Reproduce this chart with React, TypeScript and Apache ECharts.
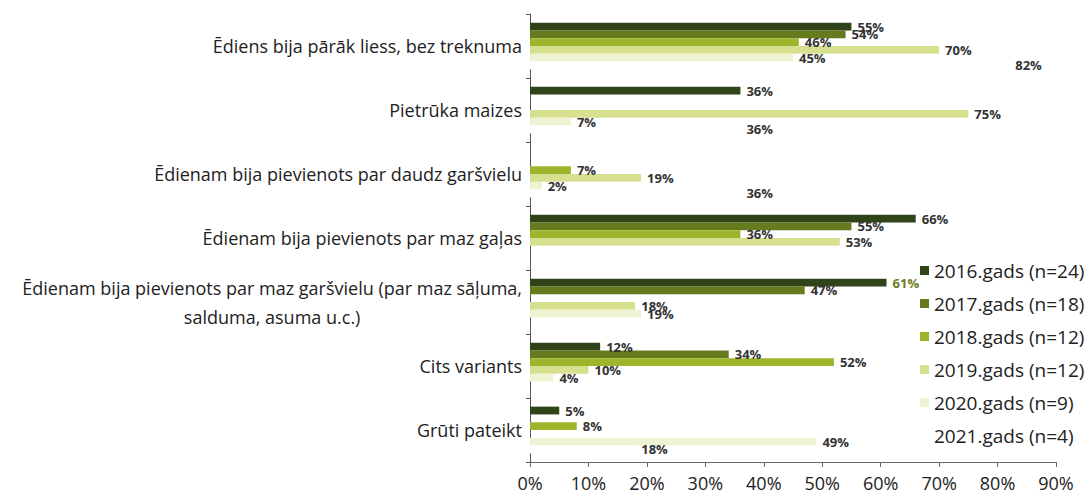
import React, { useEffect, useRef } from "react";
import * as echarts from "echarts";

const categories = [
  "Ēdiens bija pārāk liess, bez treknuma",
  "Pietrūka maizes",
  "Ēdienam bija pievienots par daudz garšvielu",
  "Ēdienam bija pievienots par maz gaļas",
  "Ēdienam bija pievienots par maz garšvielu (par maz sāļuma,\nsalduma, asuma u.c.)",
  "Cits variants",
  "Grūti pateikt",
];

const seriesNames = [
  "2016.gads (n=24)",
  "2017.gads (n=18)",
  "2018.gads (n=12)",
  "2019.gads (n=12)",
  "2020.gads (n=9)",
  "2021.gads (n=4)",
];

const v2016 = [55, 36, null, 66, 61, 12, 5];
const v2017 = [54, null, null, 55, 47, 34, null];
const v2018 = [46, null, 7, 36, null, 52, 8];
const v2019 = [70, 75, 19, 53, 18, 10, null];
const v2020 = [45, 7, 2, null, 19, 4, 49];
const v2021 = [82, 36, 36, null, null, null, 18];

const values = [v2016, v2017, v2018, v2019, v2020, v2021];
const colors = ["#2f4519", "#667b1e", "#9cb52b", "#d6e08f", "#eef3d4", "#ffffff"];

const xTicks = [0, 10, 20, 30, 40, 50, 60, 70, 80, 90];

const FONT = "'Open Sans', sans-serif";

export default function App() {
  const ref = useRef<HTMLDivElement>(null);
  useEffect(() => {
    if (!ref.current) return;
    const chart = echarts.init(ref.current, null, { renderer: "svg" });
    const series = values.map((arr, si) => ({
      name: seriesNames[si],
      type: "bar",
      data: arr.map((v, ci) =>
        si === 0 && ci === 4
          ? { value: v, label: { color: "#6b7d1f" } }
          : v
      ),
      itemStyle: { color: colors[si] },
      barGap: "0%",
      barCategoryGap: "27%",
      label: {
        show: true,
        position: "right",
        distance: 6,
        fontFamily: FONT,
        fontSize: 13,
        fontWeight: "bold",
        color: "#333",
        formatter: (p: any) => (p.value == null ? "" : p.value + "%"),
      },
    }));
    chart.setOption({
      animation: false,
      textStyle: { fontFamily: FONT },
      grid: { left: 530, right: 32, top: 14, bottom: 37, containLabel: false },
      legend: {
        orient: "vertical",
        left: 915,
        top: 256,
        icon: "rect",
        itemWidth: 9,
        itemHeight: 9,
        itemGap: 14,
        itemStyle: { borderWidth: 0 },
        textStyle: { fontFamily: FONT, fontSize: 19, color: "#222" },
        data: seriesNames,
      },
      xAxis: {
        type: "value",
        min: xTicks[0],
        max: xTicks[xTicks.length - 1],
        interval: 10,
        axisLine: { show: true, lineStyle: { color: "#666" } },
        axisTick: { show: true, length: 5, lineStyle: { color: "#666" } },
        splitLine: { show: false },
        axisLabel: {
          formatter: "{value}%",
          fontFamily: FONT,
          fontSize: 18,
          color: "#222",
          margin: 12,
        },
      },
      yAxis: {
        type: "category",
        data: categories,
        inverse: true,
        axisLine: { show: true, lineStyle: { color: "#555" } },
        axisTick: { show: true, length: 4, lineStyle: { color: "#555" } },
        axisLabel: {
          fontFamily: FONT,
          fontSize: 18,
          color: "#222",
          margin: 8,
          lineHeight: 29,
          formatter: (val: string) =>
            val.indexOf("\n") >= 0
              ? val.split("\n").map((l) => "{c|" + l + "}").join("\n")
              : val,
          rich: {
            c: { align: "center", fontFamily: FONT, fontSize: 18, color: "#222", lineHeight: 29 },
          },
        },
      },
      series,
    });
    return () => chart.dispose();
  }, []);
  return <div ref={ref} style={{ width: 1088, height: 499, position: "absolute", left: 0, top: 0 }} />;
}
